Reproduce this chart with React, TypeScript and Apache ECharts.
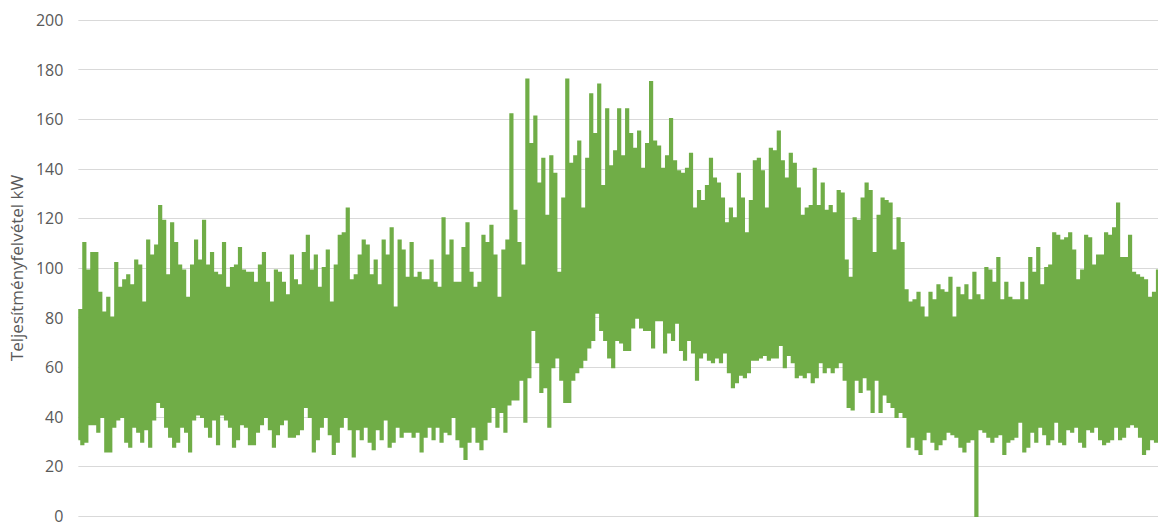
import React, { useEffect, useRef } from "react";
import * as echarts from "echarts";

// Daily peak load (kW), read left to right across the year
const dailyPeak: number[] = [
  83, 110, 99, 106, 106, 90, 82, 88, 80, 102, 92, 95, 97, 93, 103, 101, 86, 111, 105, 109,
  125, 119, 97, 118, 110, 101, 99, 88, 101, 111, 103, 119, 101, 106, 98, 97, 110, 92, 100, 101,
  108, 99, 98, 98, 94, 101, 106, 94, 86, 99, 98, 94, 89, 105, 95, 93, 106, 113, 99, 105,
  92, 100, 107, 86, 101, 113, 114, 124, 95, 97, 105, 111, 109, 97, 103, 93, 111, 105, 116, 84,
  111, 107, 96, 110, 96, 98, 95, 95, 103, 94, 92, 120, 105, 111, 94, 94, 108, 118, 98, 92,
  94, 113, 110, 117, 105, 88, 107, 111, 162, 123, 110, 101, 176, 150, 161, 134, 144, 121, 145, 138,
  98, 128, 176, 142, 145, 151, 124, 144, 170, 154, 174, 133, 164, 141, 147, 164, 145, 164, 154, 148,
  155, 140, 150, 175, 151, 149, 140, 145, 160, 143, 139, 138, 140, 146, 124, 131, 127, 133, 144, 136,
  134, 128, 118, 124, 120, 138, 128, 114, 127, 143, 144, 139, 124, 148, 147, 155, 143, 136, 146, 142,
  132, 121, 124, 125, 140, 125, 134, 123, 125, 122, 131, 130, 103, 96, 120, 119, 128, 134, 131, 106,
  121, 128, 127, 126, 107, 120, 110, 91, 86, 87, 90, 84, 80, 90, 87, 93, 91, 90, 96, 80,
  92, 89, 93, 87, 98, 89, 87, 100, 99, 94, 104, 87, 94, 88, 87,
  87, 94, 87, 104, 98, 108, 93, 100, 101, 114, 113, 111, 112, 114, 107, 95, 99, 113, 112, 101,
  105, 105, 114, 113, 116, 126, 104, 104, 113, 98, 97, 96, 95, 88, 90, 99,
];

// Nightly base load (kW), same periods as dailyPeak
const dailyBase: number[] = [
  31, 29, 30, 37, 37, 34, 40, 26, 26, 36, 39, 40, 30, 28, 36, 34, 30, 35, 28, 39,
  46, 44, 36, 32, 28, 30, 36, 34, 26, 39, 41, 40, 36, 32, 39, 29, 41, 39, 36, 28,
  31, 37, 36, 29, 29, 34, 37, 40, 35, 28, 33, 37, 39, 32, 32, 33, 35, 44, 40, 26,
  31, 36, 40, 33, 25, 30, 36, 40, 35, 24, 35, 31, 36, 30, 27, 35, 31, 39, 28, 30,
  36, 32, 34, 34, 32, 34, 26, 32, 36, 31, 36, 30, 34, 33, 40, 31, 28, 23, 30, 36,
  30, 27, 31, 38, 44, 36, 42, 34, 45, 47, 47, 55, 38, 56, 75, 62, 50, 52, 36, 60,
  64, 55, 46, 46, 55, 58, 60, 63, 68, 71, 82, 75, 71, 64, 60, 71, 70, 67, 67, 76,
  80, 76, 75, 75, 68, 79, 79, 66, 74, 71, 78, 67, 63, 71, 66, 55, 64, 66, 63, 62,
  64, 62, 66, 58, 52, 54, 57, 56, 58, 63, 63, 64, 65, 63, 64, 64, 69, 60, 65, 62,
  56, 57, 56, 58, 54, 56, 62, 58, 60, 58, 60, 62, 55, 44, 43, 55, 50, 56, 51, 42,
  55, 42, 49, 46, 44, 40, 42, 40, 28, 32, 27, 25, 31, 34, 30, 27, 29, 31, 34, 33,
  32, 28, 26, 30, 31, 0, 35, 34, 32, 30, 32, 33, 25, 30, 31,
  32, 38, 26, 28, 34, 30, 36, 33, 29, 31, 38, 30, 29, 35, 34, 36, 30, 28, 35, 34,
  36, 31, 29, 30, 31, 36, 31, 32, 36, 37, 36, 32, 25, 27, 31, 30,
];

const yTicks = { min: 0, max: 200, interval: 20 };
const axisName = "Teljesítményfelvétel kW";

export default function App() {
  const ref = useRef<HTMLDivElement>(null);

  useEffect(() => {
    if (!ref.current) return;
    const chart = echarts.init(ref.current, undefined, { renderer: "svg" });

    const values: number[] = [];
    const cats: string[] = [];
    for (let i = 0; i < dailyPeak.length; i++) {
      values.push(dailyBase[i]);
      cats.push(String(cats.length));
      values.push(dailyPeak[i]);
      cats.push(String(cats.length));
    }

    chart.setOption({
      animation: false,
      backgroundColor: "#ffffff",
      grid: { left: 77, right: 0, top: 20, bottom: 3, containLabel: false },
      xAxis: {
        type: "category",
        data: cats,
        boundaryGap: false,
        show: false,
      },
      yAxis: {
        type: "value",
        min: yTicks.min,
        max: yTicks.max,
        interval: yTicks.interval,
        name: axisName,
        nameLocation: "middle",
        nameRotate: 90,
        nameGap: 50,
        nameTextStyle: { color: "#595959", fontSize: 17, fontFamily: "Open Sans" },
        axisLine: { show: false },
        axisTick: { show: false },
        axisLabel: { color: "#595959", fontSize: 16, fontFamily: "Open Sans", margin: 15 },
        splitLine: { lineStyle: { color: "#d9d9d9", width: 1 } },
      },
      series: [
        {
          type: "line",
          data: values,
          step: "middle",
          showSymbol: false,
          symbol: "none",
          lineStyle: { color: "#70AD47", width: 2.2, join: "miter", cap: "butt" },
          itemStyle: { color: "#70AD47" },
        },
      ],
    });

    return () => chart.dispose();
  }, []);

  return (
    <div
      ref={ref}
      style={{ position: "fixed", left: 0, top: 0, width: 1158, height: 524, background: "#fff" }}
    />
  );
}
